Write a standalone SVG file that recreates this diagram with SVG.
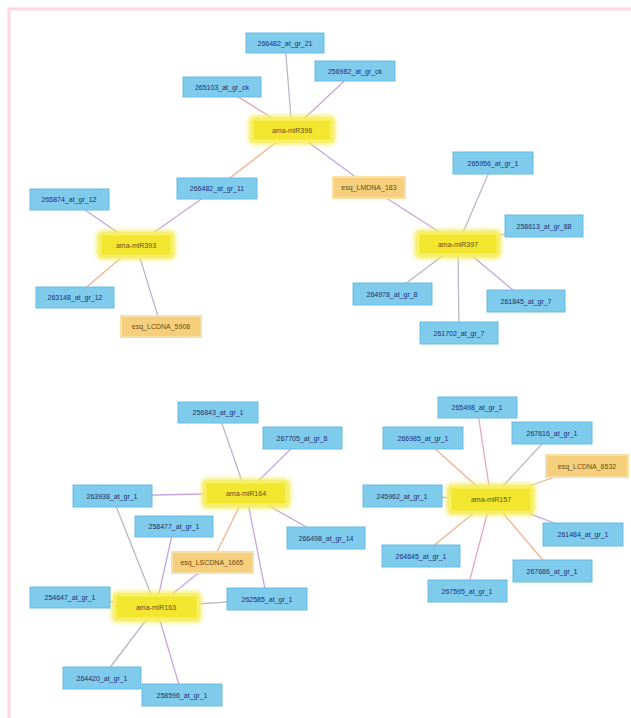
<svg xmlns="http://www.w3.org/2000/svg" width="631" height="718" viewBox="0 0 631 718">
<defs>
<style>
.bl rect{fill:#7fcbec;stroke:#68bce4;stroke-width:1}
.ye rect{fill:#f3e62e;stroke:#f7ef6a;stroke-width:3}
.or rect{fill:#f5cf7c;stroke:#f8dfa8;stroke-width:2}
text{font-family:"Liberation Sans",Arial,sans-serif;font-size:7px;text-anchor:middle;dominant-baseline:central}
.bl text{fill:#1d2f6e}
.ye text{fill:#5a5320}
.or text{fill:#6b4c10}
#edges line{stroke-width:1.3;fill:none}
.e1{stroke:#c6a6e0}.e2{stroke:#f0b48c}.e3{stroke:#b8b8c8}.e4{stroke:#e3a6c6}
</style>
<filter id="glow" x="-20%" y="-40%" width="140%" height="180%"><feGaussianBlur stdDeviation="2"/></filter>
</defs>
<rect width="631" height="718" fill="#ffffff"/>
<path d="M9 718 V9 H631" fill="none" stroke="#fcd6e1" stroke-width="3"/>
<g id="edges">
<line class="e3" x1="292" y1="130" x2="285" y2="43"/>
<line class="e1" x1="292" y1="130" x2="355" y2="71"/>
<line class="e4" x1="292" y1="130" x2="222" y2="87"/>
<line class="e2" x1="292" y1="130" x2="217" y2="188"/>
<line class="e1" x1="292" y1="130" x2="369" y2="187"/>
<line class="e1" x1="217" y1="188" x2="136" y2="245"/>
<line class="e1" x1="136" y1="245" x2="69" y2="199"/>
<line class="e2" x1="136" y1="245" x2="75" y2="297"/>
<line class="e3" x1="136" y1="245" x2="161" y2="326"/>
<line class="e1" x1="369" y1="187" x2="458" y2="244"/>
<line class="e3" x1="458" y1="244" x2="493" y2="163"/>
<line class="e3" x1="458" y1="244" x2="544" y2="226"/>
<line class="e3" x1="458" y1="244" x2="392" y2="294"/>
<line class="e1" x1="458" y1="244" x2="526" y2="301"/>
<line class="e3" x1="458" y1="244" x2="459" y2="333"/>
<line class="e3" x1="246" y1="493" x2="218" y2="412"/>
<line class="e1" x1="246" y1="493" x2="302" y2="438"/>
<line class="e1" x1="246" y1="493" x2="112" y2="496"/>
<line class="e1" x1="246" y1="493" x2="326" y2="538"/>
<line class="e1" x1="246" y1="493" x2="267" y2="599"/>
<line class="e2" x1="246" y1="493" x2="212" y2="562"/>
<line class="e3" x1="156" y1="607" x2="112" y2="496"/>
<line class="e1" x1="156" y1="607" x2="174" y2="526"/>
<line class="e1" x1="156" y1="607" x2="212" y2="562"/>
<line class="e3" x1="156" y1="607" x2="267" y2="599"/>
<line class="e1" x1="156" y1="607" x2="70" y2="597"/>
<line class="e3" x1="156" y1="607" x2="102" y2="678"/>
<line class="e1" x1="156" y1="607" x2="182" y2="695"/>
<line class="e4" x1="491" y1="499" x2="477" y2="407"/>
<line class="e2" x1="491" y1="499" x2="423" y2="438"/>
<line class="e3" x1="491" y1="499" x2="552" y2="433"/>
<line class="e2" x1="491" y1="499" x2="587" y2="466"/>
<line class="e3" x1="491" y1="499" x2="402" y2="496"/>
<line class="e1" x1="491" y1="499" x2="583" y2="534"/>
<line class="e2" x1="491" y1="499" x2="421" y2="556"/>
<line class="e2" x1="491" y1="499" x2="552" y2="571"/>
<line class="e4" x1="491" y1="499" x2="467" y2="591"/>
</g>
<g id="h1" class="ye"><rect x="250" y="117" width="84" height="26" rx="4" fill="#f6ee70" stroke="none" filter="url(#glow)"/><rect x="252" y="119" width="80" height="22" rx="2"/><text x="292" y="130">ama-miR396</text></g>
<g id="nA" class="bl"><rect x="246" y="33" width="78" height="20"/><text x="285" y="43">266482_at_gr_21</text></g>
<g id="nB" class="bl"><rect x="315" y="61" width="80" height="20"/><text x="355" y="71">256982_at_gr_ck</text></g>
<g id="nC" class="bl"><rect x="183" y="77" width="78" height="20"/><text x="222" y="87">265103_at_gr_ck</text></g>
<g id="nD" class="bl"><rect x="177" y="178" width="80" height="21"/><text x="217" y="188.5">266482_at_gr_11</text></g>
<g id="nE" class="or"><rect x="333" y="177" width="72" height="21"/><text x="369" y="187.5">esq_LMDNA_183</text></g>
<g id="h2" class="ye"><rect x="98" y="232" width="76" height="26" rx="4" fill="#f6ee70" stroke="none" filter="url(#glow)"/><rect x="100" y="234" width="72" height="22" rx="2"/><text x="136" y="245">ama-miR393</text></g>
<g id="nF" class="bl"><rect x="30" y="189" width="79" height="21"/><text x="69" y="199.5">265874_at_gr_12</text></g>
<g id="nG" class="bl"><rect x="36" y="287" width="78" height="21"/><text x="75" y="297.5">263148_at_gr_12</text></g>
<g id="nH" class="or"><rect x="121" y="316" width="80" height="21"/><text x="161" y="326.5">esq_LCDNA_5908</text></g>
<g id="h3" class="ye"><rect x="416" y="231" width="84" height="26" rx="4" fill="#f6ee70" stroke="none" filter="url(#glow)"/><rect x="418" y="233" width="80" height="22" rx="2"/><text x="458" y="244">ama-miR397</text></g>
<g id="nI" class="bl"><rect x="453" y="152" width="80" height="22"/><text x="493" y="163">265956_at_gr_1</text></g>
<g id="nJ" class="bl"><rect x="505" y="215" width="78" height="22"/><text x="544" y="226">258613_at_gr_88</text></g>
<g id="nK" class="bl"><rect x="353" y="283" width="79" height="22"/><text x="392" y="294">264978_at_gr_8</text></g>
<g id="nL" class="bl"><rect x="487" y="290" width="78" height="22"/><text x="526" y="301">261845_at_gr_7</text></g>
<g id="nM" class="bl"><rect x="420" y="322" width="78" height="22"/><text x="459" y="333">261702_at_gr_7</text></g>
<g id="h4" class="ye"><rect x="203" y="480" width="86" height="27" rx="4" fill="#f6ee70" stroke="none" filter="url(#glow)"/><rect x="205" y="482" width="82" height="23" rx="2"/><text x="246" y="493.5">ama-miR164</text></g>
<g id="nN" class="bl"><rect x="178" y="402" width="80" height="21"/><text x="218" y="412.5">256843_at_gr_1</text></g>
<g id="nO" class="bl"><rect x="263" y="427" width="79" height="22"/><text x="302" y="438">267705_at_gr_8</text></g>
<g id="nP" class="bl"><rect x="73" y="485" width="79" height="22"/><text x="112" y="496">263938_at_gr_1</text></g>
<g id="nQ" class="bl"><rect x="135" y="516" width="78" height="21"/><text x="174" y="526.5">258477_at_gr_1</text></g>
<g id="nR" class="bl"><rect x="287" y="527" width="78" height="22"/><text x="326" y="538">266498_at_gr_14</text></g>
<g id="nS" class="or"><rect x="172" y="552" width="81" height="21"/><text x="212" y="562.5">esq_LSCDNA_1665</text></g>
<g id="nT" class="bl"><rect x="227" y="588" width="80" height="22"/><text x="267" y="599">262585_at_gr_1</text></g>
<g id="h5" class="ye"><rect x="113" y="593" width="87" height="28" rx="4" fill="#f6ee70" stroke="none" filter="url(#glow)"/><rect x="115" y="595" width="83" height="24" rx="2"/><text x="156" y="607">ama-miR163</text></g>
<g id="nU" class="bl"><rect x="30" y="587" width="80" height="21"/><text x="70" y="597.5">254647_at_gr_1</text></g>
<g id="nV" class="bl"><rect x="63" y="667" width="78" height="22"/><text x="102" y="678">264420_at_gr_1</text></g>
<g id="nW" class="bl"><rect x="142" y="684" width="80" height="22"/><text x="182" y="695">258596_at_gr_1</text></g>
<g id="h6" class="ye"><rect x="448" y="485" width="86" height="29" rx="4" fill="#f6ee70" stroke="none" filter="url(#glow)"/><rect x="450" y="487" width="82" height="25" rx="2"/><text x="491" y="499.5">ama-miR157</text></g>
<g id="nX" class="bl"><rect x="438" y="397" width="79" height="21"/><text x="477" y="407.5">265498_at_gr_1</text></g>
<g id="nY" class="bl"><rect x="383" y="427" width="80" height="22"/><text x="423" y="438">266985_at_gr_1</text></g>
<g id="nZ" class="bl"><rect x="512" y="422" width="80" height="22"/><text x="552" y="433">267616_at_gr_1</text></g>
<g id="nAA" class="or"><rect x="546" y="455" width="82" height="22"/><text x="587" y="466">esq_LCDNA_6532</text></g>
<g id="nAB" class="bl"><rect x="363" y="485" width="79" height="22"/><text x="402" y="496">245962_at_gr_1</text></g>
<g id="nAC" class="bl"><rect x="543" y="523" width="80" height="23"/><text x="583" y="534.5">261484_at_gr_1</text></g>
<g id="nAD" class="bl"><rect x="382" y="545" width="78" height="22"/><text x="421" y="556">264645_at_gr_1</text></g>
<g id="nAE" class="bl"><rect x="513" y="560" width="79" height="22"/><text x="552" y="571">267686_at_gr_1</text></g>
<g id="nAF" class="bl"><rect x="428" y="580" width="79" height="22"/><text x="467" y="591">267595_at_gr_1</text></g>
</svg>
